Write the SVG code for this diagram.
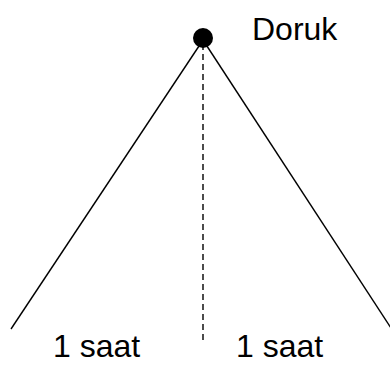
<svg xmlns="http://www.w3.org/2000/svg" width="390" height="365" viewBox="0 0 390 365">
<style>
.t{font-family:"Liberation Sans",Arial,sans-serif;font-size:32px;fill:#000}
.l{stroke:#000;stroke-width:1.4;fill:none}
</style>
<rect width="390" height="365" fill="#fff"/>
<g id="connectors">
<line class="l" x1="203" y1="40" x2="11" y2="329"/>
<line class="l" x1="203" y1="40" x2="391" y2="328"/>
<line class="l" x1="203" y1="44" x2="203" y2="343" stroke-dasharray="6,4"/>
</g>
<g id="doruk">
<circle cx="203" cy="38" r="10" fill="#000"/>
<text class="t" x="252" y="40">Doruk</text>
</g>
<g id="left"><text class="t" x="53" y="357">1 saat</text></g>
<g id="right"><text class="t" x="236" y="357">1 saat</text></g>
</svg>
